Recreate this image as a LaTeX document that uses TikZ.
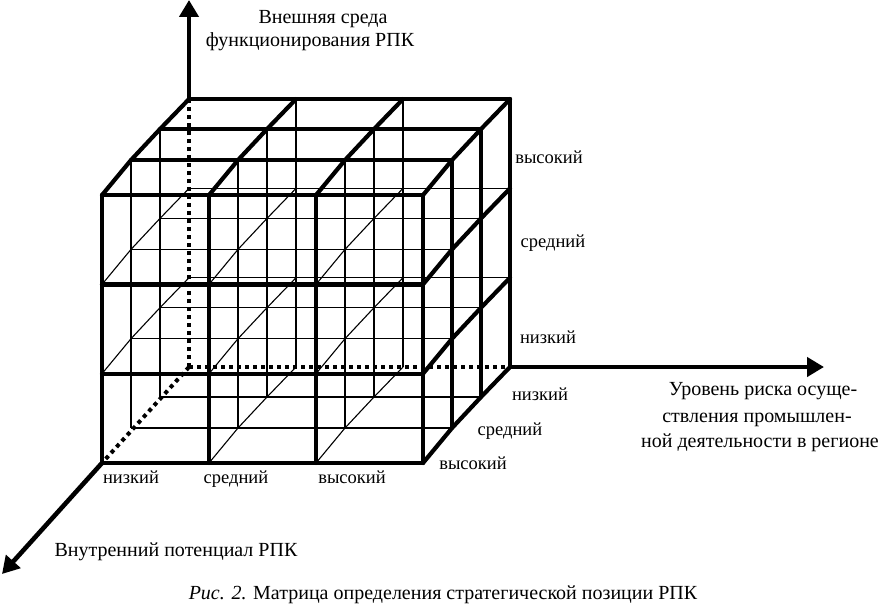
\documentclass[tikz,border=0pt]{standalone}
\usepackage{fontspec}
\setmainfont{Liberation Serif}
\usetikzlibrary{arrows.meta}
\begin{document}
\begin{tikzpicture}[x=1pt,y=-1pt,
  thickln/.style={line width=4.2pt, line cap=round, line join=round},
  thinln/.style={line width=1.1pt},
  dotln/.style={line width=4pt, dash pattern=on 4pt off 4pt},
  axis/.style={line width=4.6pt, -{Triangle[width=19pt,length=17pt]}},
  lbl/.style={font=\fontsize{18.5}{22}\selectfont, inner sep=0pt, text height=0.7em, text depth=0.22em},
  big/.style={font=\fontsize{20}{25}\selectfont, inner sep=0pt, text height=0.7em, text depth=0.22em}]
\useasboundingbox (0,0) rectangle (883,607);
\foreach \k/\dx/\dy in {0/0/0,1/29/-35,2/58/-66,3/87/-96}{
 \foreach \i in {0,...,3}{\foreach \j in {0,...,3}{
  \coordinate (p\i\j\k) at ({102+107*\i+\dx},{463-89.3*\j+\dy});
}}}
% thin interior lines
\foreach \j/\k in {0/1,0/2,1/1,1/2,1/3,2/1,2/2,2/3} \draw[thinln] (p0\j\k) -- (p3\j\k);
\foreach \i/\k in {0/1,0/2,1/1,1/2,1/3,2/1,2/2,2/3} \draw[thinln] (p\i0\k) -- (p\i3\k);
\foreach \i/\j in {0/1,0/2,1/0,1/1,1/2,2/0,2/1,2/2} \draw[thinln] (p\i\j0) -- (p\i\j1) -- (p\i\j2) -- (p\i\j3);
% dotted hidden axes
\draw[dotln] (p003) -- (p303);
\draw[dotln] (p003) -- (p033);
\draw[dotln] (p003) -- (p000);
% thick visible edges
\foreach \j in {0,...,3} \draw[thickln] (p0\j0) -- (p3\j0);
\foreach \k in {1,2,3} \draw[thickln] (p03\k) -- (p33\k);
\foreach \i in {0,...,3} \draw[thickln] (p\i00) -- (p\i30);
\foreach \k in {1,2,3} \draw[thickln] (p30\k) -- (p33\k);
\foreach \i in {0,...,3} \draw[thickln] (p\i30) -- (p\i31) -- (p\i32) -- (p\i33);
\foreach \j in {0,1,2} \draw[thickln] (p3\j0) -- (p3\j1) -- (p3\j2) -- (p3\j3);
% axes
\coordinate (ytip) at (189,0);
\coordinate (xtip) at (824,367);
\coordinate (ztip) at (2,574);
\draw[axis] (p033) -- (ytip);
\draw[axis] (p303) -- (xtip);
\draw[axis] (p000) -- (ztip);
% axis titles
\node[big] (yl1) at (323,21) {Внешняя среда};
\node[big] (yl2) at (310,44) {функционирования РПК};
\node[big] (xl1) at (763,393) {Уровень риска осуще-};
\node[big] (xl2) at (757,420) {ствления промышлен-};
\node[big] (xl3) at (760,445) {ной деятельности в регионе};
\node[big] (zl) at (176,554) {Внутренний потенциал РПК};
% level labels
\node[lbl] (r1) at (549,161) {высокий};
\node[lbl] (r2) at (553,245) {средний};
\node[lbl] (r3) at (548,341) {низкий};
\node[lbl] (d1) at (540,398) {низкий};
\node[lbl] (d2) at (510,433) {средний};
\node[lbl] (d3) at (473,467) {высокий};
\node[lbl] (b1) at (131,481) {низкий};
\node[lbl] (b2) at (236,481) {средний};
\node[lbl] (b3) at (352,481) {высокий};
% caption
\node[big] (cap) at (443,597) {\textit{Рис. 2.} Матрица определения стратегической позиции РПК};
\end{tikzpicture}
\end{document}
